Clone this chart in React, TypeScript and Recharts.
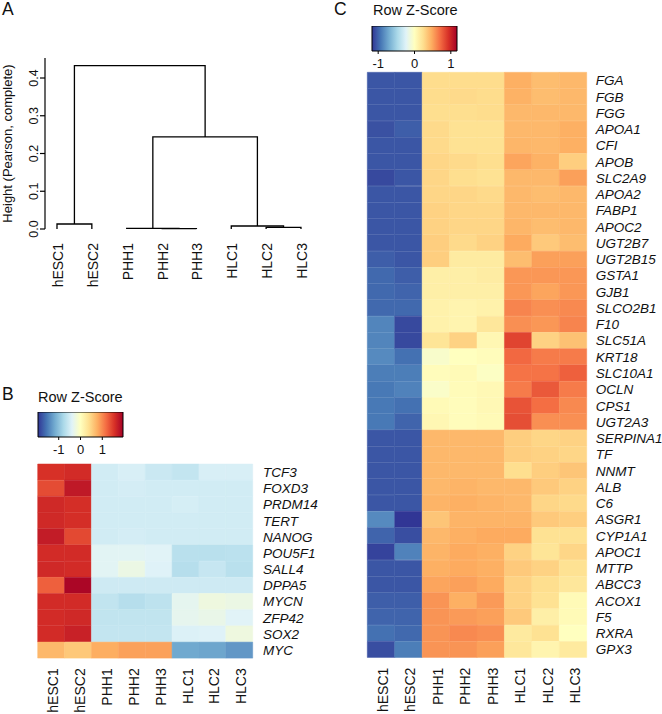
import {
  Bar,
  BarChart,
  Cell,
  Label,
  ReferenceArea,
  Scatter,
  ScatterChart,
  XAxis,
  YAxis,
} from "recharts";

const FONT = '"Liberation Sans", Arial, Helvetica, sans-serif';
const INK = "#111";

const samples = ["hESC1", "hESC2", "PHH1", "PHH2", "PHH3", "HLC1", "HLC2", "HLC3"];

// hclust-style merges: negative = leaf (1-based position), positive = earlier merge
const dendroMerges = [
  [-7, -8],
  [-4, -5],
  [-3, 2],
  [-6, 1],
  [-1, -2],
  [3, 4],
  [5, 6],
];
const dendroHeights = [0.0044, 0.001, 0.0018, 0.0079, 0.0132, 0.244, 0.433];
const heightTicks = [0, 0.1, 0.2, 0.3, 0.4];

// panel B: pluripotency genes, row z-scores
const pluriGenes = ["TCF3", "FOXD3", "PRDM14", "TERT", "NANOG", "POU5F1", "SALL4", "DPPA5", "MYCN", "ZFP42", "SOX2", "MYC"];
const pluriZ = [
  [1.56, 1.6, -0.5, -0.45, -0.55, -0.6, -0.45, -0.45],
  [1.38, 1.75, -0.5, -0.48, -0.5, -0.5, -0.5, -0.5],
  [1.62, 1.58, -0.5, -0.5, -0.5, -0.47, -0.5, -0.5],
  [1.62, 1.58, -0.5, -0.5, -0.5, -0.5, -0.5, -0.5],
  [1.72, 1.4, -0.5, -0.48, -0.5, -0.5, -0.5, -0.5],
  [1.6, 1.6, -0.36, -0.36, -0.38, -0.68, -0.68, -0.66],
  [1.62, 1.6, -0.36, -0.25, -0.4, -0.7, -0.58, -0.68],
  [1.25, 1.9, -0.52, -0.52, -0.52, -0.52, -0.52, -0.52],
  [1.6, 1.6, -0.62, -0.7, -0.65, -0.33, -0.22, -0.25],
  [1.6, 1.62, -0.62, -0.62, -0.62, -0.32, -0.28, -0.38],
  [1.6, 1.68, -0.6, -0.6, -0.6, -0.42, -0.4, -0.22],
  [0.7, 0.58, 0.78, 0.86, 0.86, -1.2, -1.22, -1.32],
];
const pluriRange = 1.95;

// panel C: hepatic genes, row z-scores
const hepGenes = [
  "FGA", "FGB", "FGG", "APOA1", "CFI", "APOB", "SLC2A9", "APOA2", "FABP1", "APOC2",
  "UGT2B7", "UGT2B15", "GSTA1", "GJB1", "SLCO2B1", "F10", "SLC51A", "KRT18", "SLC10A1", "OCLN",
  "CPS1", "UGT2A3", "SERPINA1", "TF", "NNMT", "ALB", "C6", "ASGR1", "CYP1A1", "APOC1",
  "MTTP", "ABCC3", "ACOX1", "F5", "RXRA", "GPX3",
];
const hepZ = [
  [-1.05, -1.05, 0.25, 0.25, 0.25, 0.46, 0.4, 0.42],
  [-1.05, -1.05, 0.25, 0.26, 0.25, 0.45, 0.4, 0.42],
  [-1.05, -1.05, 0.24, 0.24, 0.25, 0.42, 0.42, 0.42],
  [-1.07, -1.02, 0.26, 0.22, 0.22, 0.42, 0.42, 0.46],
  [-1.05, -1.05, 0.26, 0.22, 0.22, 0.43, 0.42, 0.46],
  [-1.05, -1.05, 0.28, 0.26, 0.24, 0.5, 0.45, 0.32],
  [-1.1, -1.05, 0.28, 0.24, 0.22, 0.42, 0.42, 0.52],
  [-1.05, -1.05, 0.28, 0.28, 0.26, 0.42, 0.4, 0.42],
  [-1.05, -1.05, 0.3, 0.28, 0.28, 0.42, 0.42, 0.42],
  [-1.05, -1.05, 0.3, 0.28, 0.28, 0.43, 0.4, 0.42],
  [-1.05, -1.05, 0.32, 0.26, 0.3, 0.48, 0.34, 0.4],
  [-1.02, -1.05, 0.32, 0.15, 0.15, 0.4, 0.52, 0.52],
  [-0.98, -1.02, 0.12, 0.12, 0.14, 0.55, 0.55, 0.55],
  [-0.98, -1.0, 0.12, 0.12, 0.12, 0.55, 0.5, 0.55],
  [-0.98, -0.98, 0.1, 0.08, 0.1, 0.62, 0.58, 0.6],
  [-0.87, -1.1, 0.1, 0.08, 0.18, 0.58, 0.55, 0.62],
  [-0.87, -1.1, 0.2, 0.3, 0.06, 0.86, 0.3, 0.38],
  [-0.85, -0.95, -0.05, 0.0, 0.02, 0.72, 0.65, 0.65],
  [-0.9, -0.9, 0.02, 0.04, -0.02, 0.68, 0.68, 0.75],
  [-0.92, -0.88, -0.04, 0.03, 0.05, 0.65, 0.78, 0.65],
  [-0.92, -0.95, 0.04, 0.02, 0.05, 0.8, 0.7, 0.6],
  [-0.92, -1.0, 0.06, 0.02, 0.04, 0.82, 0.58, 0.58],
  [-1.05, -1.05, 0.42, 0.42, 0.42, 0.32, 0.28, 0.3],
  [-1.05, -1.05, 0.42, 0.42, 0.42, 0.32, 0.3, 0.28],
  [-1.05, -1.05, 0.42, 0.42, 0.42, 0.24, 0.32, 0.36],
  [-1.05, -1.05, 0.42, 0.44, 0.42, 0.42, 0.34, 0.3],
  [-1.05, -1.05, 0.44, 0.46, 0.44, 0.42, 0.28, 0.26],
  [-0.85, -1.17, 0.36, 0.44, 0.44, 0.44, 0.34, 0.32],
  [-1.0, -1.08, 0.42, 0.46, 0.48, 0.48, 0.22, 0.22],
  [-1.12, -0.88, 0.44, 0.48, 0.46, 0.3, 0.2, 0.28],
  [-1.05, -1.05, 0.46, 0.48, 0.46, 0.34, 0.3, 0.22],
  [-1.05, -1.05, 0.5, 0.52, 0.48, 0.3, 0.24, 0.18],
  [-1.02, -1.02, 0.56, 0.46, 0.54, 0.3, 0.22, 0.04],
  [-1.0, -1.0, 0.56, 0.54, 0.52, 0.34, 0.12, 0.04],
  [-0.95, -0.98, 0.56, 0.6, 0.58, 0.16, 0.22, 0.0],
  [-1.08, -0.9, 0.56, 0.56, 0.52, 0.18, 0.08, 0.16],
];
const hepRange = 1.17;

const keyTicks = [-1, 0, 1];

// RdYlBu, blue -> red
const PALETTE = [
  "#313695", "#4575b4", "#74add1", "#abd9e9", "#e0f3f8", "#ffffbf",
  "#fee090", "#fdae61", "#f46d43", "#d73027", "#a50026",
];

function hexToRgb(h: string) {
  const n = parseInt(h.slice(1), 16);
  return [(n >> 16) & 255, (n >> 8) & 255, n & 255];
}

function zColor(v: number, range: number) {
  const t = Math.max(0, Math.min(1, (v + range) / (2 * range)));
  const pos = t * (PALETTE.length - 1);
  const i = Math.min(PALETTE.length - 2, Math.floor(pos));
  const f = pos - i;
  const a = hexToRgb(PALETTE[i]);
  const b = hexToRgb(PALETTE[i + 1]);
  const c = a.map((av, k) => Math.round(av + (b[k] - av) * f));
  return `rgb(${c[0]},${c[1]},${c[2]})`;
}

const NoDot = () => <g />;

// build U-shaped segments of the dendrogram
function dendroSegments() {
  const nodeX: number[] = [];
  const nodeY: number[] = [];
  const pos = (ref: number) => (ref < 0 ? [-ref, 0] : [nodeX[ref - 1], nodeY[ref - 1]]);
  return dendroMerges.map(([l, r], i) => {
    const [xl, yl] = pos(l);
    const [xr, yr] = pos(r);
    const h = dendroHeights[i];
    nodeX.push((xl + xr) / 2);
    nodeY.push(h);
    return [
      { x: xl, y: yl },
      { x: xl, y: h },
      { x: xr, y: h },
      { x: xr, y: yr },
    ];
  });
}

function HeightTick({ x, y, payload }: any) {
  return (
    <text x={x} y={y} transform={`rotate(-90 ${x} ${y})`} textAnchor="middle"
      fontSize={12.5} fill={INK} fontFamily={FONT}>
      {Number(payload.value).toFixed(1)}
    </text>
  );
}

function LeafTick({ x, y, payload }: any) {
  const tx = x + 6;
  return (
    <text x={tx} y={y} transform={`rotate(-90 ${tx} ${y})`} textAnchor="end"
      fontSize={14} fill={INK} fontFamily={FONT}>
      {samples[Math.round(payload.value) - 1]}
    </text>
  );
}

function SampleTick({ x, y, payload }: any) {
  const tx = x + 7;
  return (
    <text x={tx} y={y} transform={`rotate(-90 ${tx} ${y})`} textAnchor="end"
      fontSize={14} fill={INK} fontFamily={FONT}>
      {samples[Math.floor(payload.value)]}
    </text>
  );
}

function GeneTick({ x, y, payload }: any) {
  return (
    <text x={x} y={y} dy="0.36em" textAnchor="start" fontSize={13.5}
      fontStyle="italic" fill={INK} fontFamily={FONT}>
      {payload.value}
    </text>
  );
}

function Dendrogram() {
  const segs = dendroSegments();
  return (
    <ScatterChart width={330} height={300} margin={{ top: 58, right: 11.6, bottom: 11, left: 0 }}>
      <XAxis type="number" dataKey="x" domain={[0.656, 8.5]} ticks={[1, 2, 3, 4, 5, 6, 7, 8]}
        interval={0} axisLine={false} tickLine={false} tickSize={0} tickMargin={14}
        height={60} tick={<LeafTick />} />
      <YAxis type="number" dataKey="y" domain={[0, 0.453]} ticks={heightTicks} interval={0}
        width={45} tickSize={5} axisLine={{ stroke: "#000", strokeWidth: 1.2 }}
        tickLine={{ stroke: "#000", strokeWidth: 1.2 }} tick={<HeightTick />}>
        <Label
          content={({ viewBox }: any) => {
            const tx = viewBox.x + 12;
            const ty = viewBox.y + viewBox.height / 2;
            return (
              <text x={tx} y={ty} transform={`rotate(-90 ${tx} ${ty})`} textAnchor="middle"
                fontSize={13} fill={INK} fontFamily={FONT}>
                Height (Pearson, complete)
              </text>
            );
          }}
        />
      </YAxis>
      {segs.map((s, i) => (
        <Scatter key={i} data={s} line={{ stroke: "#000", strokeWidth: 1.3 }} lineType="joint"
          shape={NoDot} isAnimationActive={false} legendType="none" />
      ))}
    </ScatterChart>
  );
}

function ColorKey({ range, id, left, top }: { range: number; id: string; left: number; top: number }) {
  return (
    <div style={{ position: "absolute", left, top }}>
      <ScatterChart width={125} height={45} margin={{ top: 0, right: 20, bottom: 0, left: 20 }}>
        <defs>
          <linearGradient id={id} x1="0" x2="1" y1="0" y2="0">
            {PALETTE.map((c, i) => (
              <stop key={i} offset={i / (PALETTE.length - 1)} stopColor={c} />
            ))}
          </linearGradient>
        </defs>
        <XAxis type="number" dataKey="x" domain={[-range, range]} ticks={keyTicks} interval={0}
          axisLine={false} tickSize={3} tickMargin={5} height={20}
          tickLine={{ stroke: "#000" }}
          tick={{ fontSize: 13, fill: INK, fontFamily: FONT }} />
        <YAxis type="number" dataKey="y" domain={[0, 1]} hide />
        <Scatter data={[{ x: -range, y: 0 }, { x: range, y: 1 }]} shape={NoDot}
          isAnimationActive={false} legendType="none" />
        <ReferenceArea x1={-range} x2={range} y1={0} y2={1} fill={`url(#${id})`}
          fillOpacity={1} stroke="#000" strokeWidth={1} />
      </ScatterChart>
    </div>
  );
}

type HeatmapProps = {
  genes: string[];
  values: number[][];
  range: number;
  width: number;
  height: number;
  top: number;
  left: number;
  yAxisWidth: number;
  xAxisHeight: number;
  labelGap: number;
};

function Heatmap({ genes, values, range, width, height, top, left, yAxisWidth, xAxisHeight, labelGap }: HeatmapProps) {
  const data = genes.map((gene) => {
    const row: Record<string, string | number> = { gene };
    samples.forEach((_, j) => (row["c" + j] = 1));
    return row;
  });
  return (
    <BarChart layout="vertical" width={width} height={height} data={data}
      margin={{ top, right: 0, bottom: 0, left }} barCategoryGap={0} barGap={0}>
      <XAxis type="number" domain={[0, samples.length]} ticks={samples.map((_, j) => j + 0.5)}
        interval={0} axisLine={false} tickLine={false} tickSize={0} tickMargin={10}
        height={xAxisHeight} tick={<SampleTick />} />
      <YAxis type="category" dataKey="gene" orientation="right" width={yAxisWidth}
        interval={0} axisLine={false} tickLine={false} tickSize={0} tickMargin={labelGap}
        tick={<GeneTick />} />
      {samples.map((s, j) => (
        <Bar key={s} dataKey={"c" + j} stackId="heat" isAnimationActive={false}>
          {values.map((row, i) => {
            const c = zColor(row[j], range);
            return <Cell key={i} fill={c} stroke={c} strokeWidth={0.5} />;
          })}
        </Bar>
      ))}
    </BarChart>
  );
}

export default function App() {
  const textStyle = { fontFamily: FONT, fill: INK };
  return (
    <div style={{ position: "absolute", left: 0, top: 0, width: 662, height: 714, background: "#fff", overflow: "hidden" }}>
      <div style={{ position: "absolute", left: 0, top: 0 }}>
        <Dendrogram />
      </div>

      <div style={{ position: "absolute", left: 0, top: 380 }}>
        <Heatmap genes={pluriGenes} values={pluriZ} range={pluriRange} width={330} height={334}
          top={84} left={37.7} yAxisWidth={77.3} xAxisHeight={55.7} labelGap={10.3} />
      </div>

      <div style={{ position: "absolute", left: 331, top: 0 }}>
        <Heatmap genes={hepGenes} values={hepZ} range={hepRange} width={331} height={714}
          top={72.3} left={36.3} yAxisWidth={75.3} xAxisHeight={56.3} labelGap={9} />
      </div>

      <ColorKey range={pluriRange} id="keyB" left={18.3} top={412.3} />
      <ColorKey range={hepRange} id="keyC" left={351.7} top={25.7} />

      <svg width={662} height={714} style={{ position: "absolute", left: 0, top: 0, pointerEvents: "none" }}>
        <text x={2} y={15} fontSize={17.5} {...textStyle}>A</text>
        <text x={2} y={400} fontSize={17.5} {...textStyle}>B</text>
        <text x={334} y={15} fontSize={17.5} {...textStyle}>C</text>
        <text x={38} y={401.5} fontSize={14.5} {...textStyle}>Row Z-Score</text>
        <text x={373} y={15} fontSize={14.5} {...textStyle}>Row Z-Score</text>
      </svg>
    </div>
  );
}
